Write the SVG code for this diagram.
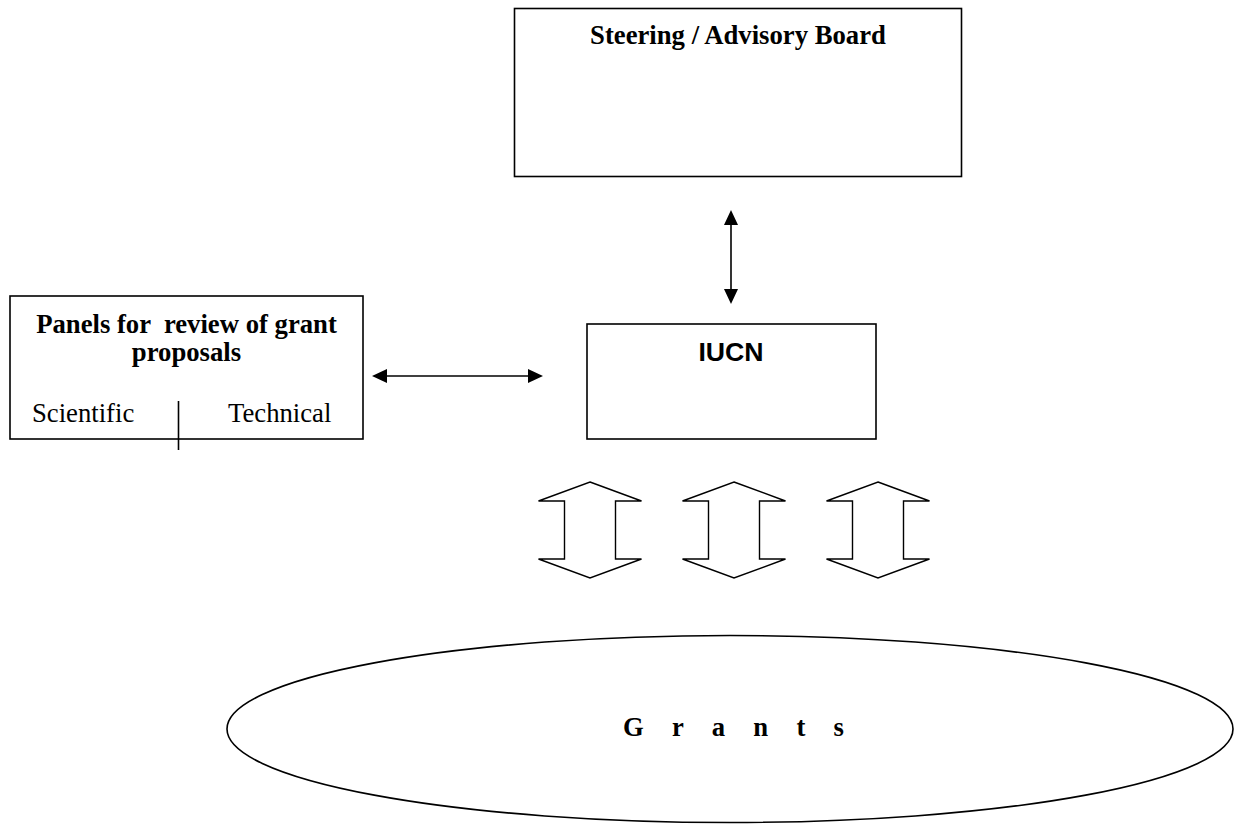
<svg xmlns="http://www.w3.org/2000/svg" width="1235" height="824" viewBox="0 0 1235 824">
<style>
.box{fill:#fff;stroke:#000;stroke-width:1.6}
.tb{font-family:"Liberation Serif","Times New Roman",serif;font-weight:bold;font-size:26.7px;fill:#000}
.tr{font-family:"Liberation Serif","Times New Roman",serif;font-size:26.7px;fill:#000}
.ab{font-family:"Liberation Sans",Arial,sans-serif;font-weight:bold;font-size:26.7px;fill:#000}
.conn{stroke:#000;stroke-width:1.6;fill:none}
.blk{fill:#fff;stroke:#000;stroke-width:1.4;stroke-linejoin:miter}
</style>
<defs>
<marker id="ah" viewBox="0 0 15 14" markerUnits="userSpaceOnUse" markerWidth="15" markerHeight="14" refX="13" refY="7" orient="auto-start-reverse">
<path d="M0,0 L15,7 L0,14 z" fill="#000"/>
</marker>
</defs>
<rect width="1235" height="824" fill="#fff"/>
<g id="steering">
<rect class="box" x="514.5" y="8.5" width="447" height="168"/>
<text class="tb" x="738" y="44" text-anchor="middle">Steering / Advisory Board</text>
</g>
<g id="iucn">
<rect class="box" x="587" y="324" width="289" height="115"/>
<text class="ab" x="731" y="361" text-anchor="middle">IUCN</text>
</g>
<g id="panels">
<rect class="box" x="10" y="296" width="353" height="143"/>
<text class="tb" x="186.5" y="333" text-anchor="middle" xml:space="preserve" style="white-space:pre">Panels for  review of grant</text>
<text class="tb" x="186.5" y="361" text-anchor="middle">proposals</text>
<text class="tr" x="32" y="422">Scientific</text>
<text class="tr" x="228" y="422">Technical</text>
<line class="conn" x1="178.5" y1="401" x2="178.5" y2="450"/>
</g>
<g id="grants">
<ellipse class="box" cx="730" cy="729" rx="503" ry="93.5"/>
<text class="tb" x="623" y="736" letter-spacing="10.8" xml:space="preserve" style="white-space:pre">G r a n t s</text>
</g>
<g id="connectors">
<line class="conn" x1="374" y1="376" x2="541" y2="376" marker-start="url(#ah)" marker-end="url(#ah)"/>
<line class="conn" x1="731" y1="212" x2="731" y2="302" marker-start="url(#ah)" marker-end="url(#ah)"/>
<polygon class="blk" points="590,482 641.5,501 615.5,501 615.5,559 641.5,559 590,578 538.5,559 564.5,559 564.5,501 538.5,501"/>
<polygon class="blk" points="734,482 785.5,501 759.5,501 759.5,559 785.5,559 734,578 682.5,559 708.5,559 708.5,501 682.5,501"/>
<polygon class="blk" points="878,482 929.5,501 903.5,501 903.5,559 929.5,559 878,578 826.5,559 852.5,559 852.5,501 826.5,501"/>
</g>
</svg>
